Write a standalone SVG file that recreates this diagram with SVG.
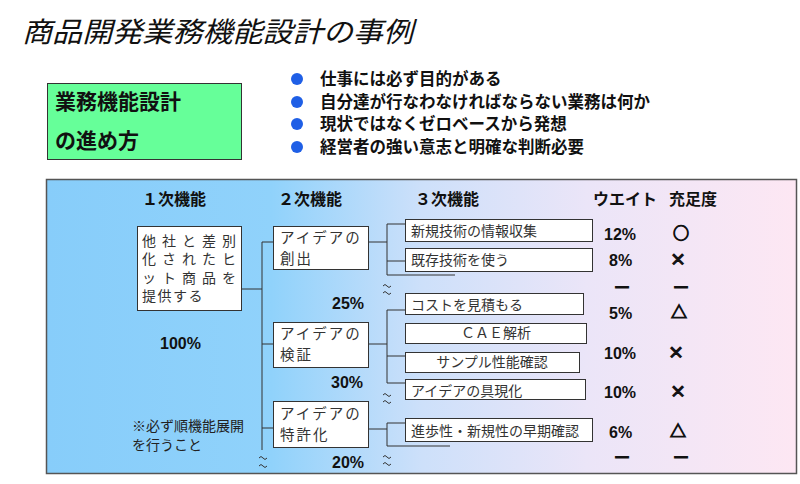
<svg xmlns="http://www.w3.org/2000/svg" width="800" height="484" viewBox="0 0 800 484">
<defs>
<linearGradient id="bg" x1="0" y1="0" x2="1" y2="0">
<stop offset="0" stop-color="#87cdfa"/>
<stop offset="0.3" stop-color="#90d2fb"/>
<stop offset="0.5" stop-color="#cde0fa"/>
<stop offset="0.72" stop-color="#ebe5f8"/>
<stop offset="1" stop-color="#fde7f3"/>
</linearGradient>
<path id="sq" d="M-4,0 q2,-3 4,0 t4,0" fill="none" stroke="#333" stroke-width="1"/>
</defs>
<style>
.jp{font-family:"Noto Sans CJK JP","Noto Sans CJK SC",sans-serif}
.box{fill:#fff;stroke:#333;stroke-width:1}
.bt{font-family:"Noto Sans CJK JP",sans-serif;font-size:14px;fill:#333}
.b2{font-family:"Noto Sans CJK JP",sans-serif;font-size:14.5px;letter-spacing:2px;fill:#333}
.hd{font-family:"Noto Sans CJK JP",sans-serif;font-size:16px;font-weight:700;fill:#111}
.pc{font-family:"Liberation Sans",Arial,sans-serif;font-size:16px;font-weight:700;fill:#111}
.sy{font-family:"Noto Sans CJK JP",sans-serif;font-size:16px;font-weight:700;fill:#111;stroke:#111;stroke-width:1.1;text-anchor:middle}
.ln{stroke:#333;stroke-width:1;fill:none}
</style>
<rect width="800" height="484" fill="#fff"/>
<text x="22" y="42" class="jp" font-size="28" font-style="italic" fill="#111" textLength="391" lengthAdjust="spacingAndGlyphs">商品開発業務機能設計の事例</text>

<g id="method">
<rect x="47.5" y="83.5" width="194" height="76" fill="#66ff99" stroke="#333" stroke-width="1"/>
<text x="55" y="109" class="jp" font-size="21" font-weight="700" fill="#111">業務機能設計</text>
<text x="55" y="148" class="jp" font-size="21" font-weight="700" fill="#111">の進め方</text>
</g>

<g id="bullets" class="jp" font-size="16.5" font-weight="700" fill="#111">
<circle cx="297" cy="79" r="6" fill="#1f5fe6"/>
<circle cx="297" cy="102" r="6" fill="#1f5fe6"/>
<circle cx="297" cy="124" r="6" fill="#1f5fe6"/>
<circle cx="297" cy="147" r="6" fill="#1f5fe6"/>
<text x="320" y="85">仕事には必ず目的がある</text>
<text x="320" y="108">自分達が行なわなければならない業務は何か</text>
<text x="320" y="130">現状ではなくゼロベースから発想</text>
<text x="320" y="153">経営者の強い意志と明確な判断必要</text>
</g>

<rect id="panel" x="46.5" y="179.5" width="750" height="294" fill="url(#bg)" stroke="#555" stroke-width="1.5"/>

<g id="headers">
<text x="142" y="205" class="hd">１次機能</text>
<text x="278" y="205" class="hd">２次機能</text>
<text x="415" y="205" class="hd">３次機能</text>
<text x="593" y="205" class="hd">ウエイト</text>
<text x="669" y="205" class="hd">充足度</text>
</g>

<g id="connectors" class="ln">
<path d="M242,289H262M262,242V450M262,242H273M262,344H273M262,428H273"/>
<path d="M369,242H387M387,224V275M387,224H405M387,261H405M387,275H455"/>
<path d="M368,344H387M387,310V383M387,310H405M387,356H405M387,383H405"/>
<path d="M368,429H387M387,423V446M387,423H405M387,446H450"/>
<use href="#sq" x="387" y="286"/>
<use href="#sq" x="387" y="293"/>
<use href="#sq" x="387" y="395"/>
<use href="#sq" x="387" y="402"/>
<use href="#sq" x="387" y="457"/>
<use href="#sq" x="387" y="464"/>
<use href="#sq" x="263" y="458"/>
<use href="#sq" x="263" y="466"/>
</g>

<g id="n-primary">
<rect x="137.5" y="226.5" width="104" height="84" class="box"/>
<text class="bt" font-size="13.5"><tspan x="142" y="245.5" letter-spacing="6">他社と差別</tspan><tspan x="142" y="264" letter-spacing="6">化されたヒ</tspan><tspan x="142" y="282.5" letter-spacing="6">ット商品を</tspan><tspan x="142" y="301" letter-spacing="1.5">提供する</tspan></text>
</g>
<text id="p100" x="160" y="349" class="pc">100%</text>
<text id="note" class="jp" font-size="14" fill="#222"><tspan x="132" y="431">※必ず順機能展開</tspan><tspan x="132" y="450">を行うこと</tspan></text>

<g id="n-create">
<rect x="273.5" y="226.5" width="95" height="43" class="box"/>
<text x="280" y="243" class="b2">アイデアの</text>
<text x="280" y="264" class="b2">創出</text>
</g>
<text id="p25" x="332" y="309" class="pc">25%</text>
<g id="n-verify">
<rect x="273.5" y="322.5" width="95" height="45" class="box"/>
<text x="280" y="339" class="b2">アイデアの</text>
<text x="280" y="360" class="b2">検証</text>
</g>
<text id="p30" x="331" y="388" class="pc">30%</text>
<g id="n-patent">
<rect x="273.5" y="401.5" width="95" height="46" class="box"/>
<text x="280" y="419" class="b2">アイデアの</text>
<text x="280" y="440" class="b2">特許化</text>
</g>
<text id="p20" x="332" y="468" class="pc">20%</text>

<g id="n-info">
<rect x="405.5" y="219.5" width="187" height="22" class="box"/>
<text x="411" y="236" class="bt">新規技術の情報収集</text>
</g>
<g id="n-exist">
<rect x="405.5" y="248.5" width="187" height="23" class="box"/>
<text x="411" y="265" class="bt">既存技術を使う</text>
</g>
<g id="n-cost">
<rect x="405.5" y="293.5" width="178" height="21" class="box"/>
<text x="411" y="310" class="bt">コストを見積もる</text>
</g>
<g id="n-cae">
<rect x="405.5" y="323.5" width="181" height="20" class="box"/>
<text x="496" y="338" class="bt" text-anchor="middle">ＣＡＥ解析</text>
</g>
<g id="n-sample">
<rect x="405.5" y="352.5" width="174" height="20" class="box"/>
<text x="492" y="367" class="bt" text-anchor="middle">サンプル性能確認</text>
</g>
<g id="n-real">
<rect x="405.5" y="379.5" width="180" height="20" class="box"/>
<text x="411" y="396" class="bt">アイデアの具現化</text>
</g>
<g id="n-novel">
<rect x="405.5" y="418.5" width="187" height="23" class="box"/>
<text x="411" y="436" class="bt">進歩性・新規性の早期確認</text>
</g>

<g id="weights">
<text x="604" y="240" class="pc">12%</text>
<text x="609" y="266" class="pc">8%</text>
<text x="622" y="292" class="sy" stroke-width="0">—</text>
<text x="609" y="319" class="pc">5%</text>
<text x="604" y="359" class="pc">10%</text>
<text x="604" y="398" class="pc">10%</text>
<text x="609" y="438" class="pc">6%</text>
<text x="622" y="462" class="sy" stroke-width="0">—</text>
</g>
<g id="satisfaction">
<text x="681" y="239" class="sy">○</text>
<text x="678" y="265" class="sy" font-size="13">×</text>
<text x="681" y="292" class="sy" stroke-width="0">—</text>
<text x="679" y="318" class="sy" font-size="15">△</text>
<text x="676" y="358" class="sy" font-size="13">×</text>
<text x="678" y="397" class="sy" font-size="13">×</text>
<text x="678" y="437" class="sy" font-size="15">△</text>
<text x="681" y="462" class="sy" stroke-width="0">—</text>
</g>
</svg>
